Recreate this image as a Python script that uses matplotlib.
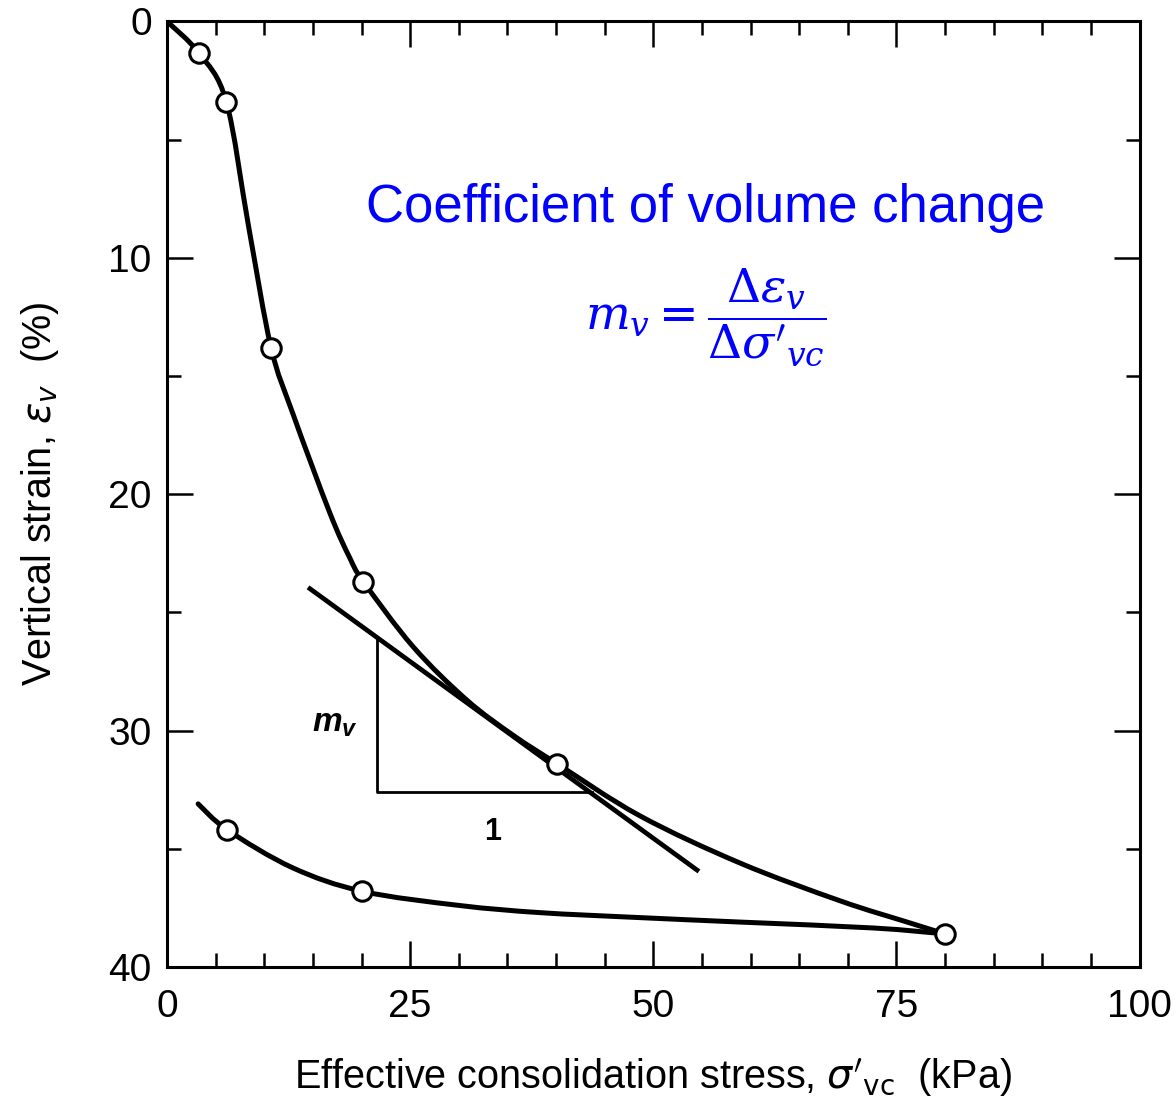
import matplotlib
matplotlib.use('Agg')
import matplotlib.pyplot as plt
from matplotlib.ticker import MultipleLocator
from matplotlib.path import Path
from matplotlib.patches import PathPatch

plt.rcParams['font.family'] = ['Liberation Sans', 'DejaVu Sans']
plt.rcParams['mathtext.it'] = 'Liberation Sans:italic:bold'
plt.rcParams['mathtext.rm'] = 'Liberation Sans:bold'

# loading curve (stress kPa, strain %)
load_x = [0, 3.3, 6.1, 8.4, 10.7, 12.95, 16.75, 18.8, 20.2, 25.3, 30.8, 35.6, 40.1, 48.6, 58.9, 69.2, 76.1, 80.0]
load_y = [0, 1.35, 3.4, 8.7, 13.8, 16.6, 20.8, 22.7, 23.7, 26.45, 28.7, 30.2, 31.4, 33.6, 35.6, 37.2, 38.1, 38.6]

# unloading curve
unload_x = [3.2, 6.2, 12.9, 20.1, 30.1, 38.3, 48.0, 58.9, 72.6, 80.0]
unload_y = [33.1, 34.2, 35.8, 36.8, 37.4, 37.7, 37.9, 38.1, 38.35, 38.6]

# measured points (circles)
pt_x = [3.3, 6.1, 10.7, 20.2, 40.1, 80.0, 6.2, 20.1]
pt_y = [1.35, 3.4, 13.8, 23.7, 31.4, 38.6, 34.2, 36.8]

# tangent line and slope triangle
tan_x = [14.7, 54.5]
tan_y = [24.0, 35.9]
tri_x = [21.6, 21.6, 43.7]
tri_y = [26.1, 32.6, 32.6]


def smooth_path(xs, ys):
    # bezier path through the traced points (catmull-rom style handles)
    pts = list(zip(xs, ys))
    n = len(pts)
    verts = [pts[0]]
    codes = [Path.MOVETO]
    for i in range(n - 1):
        p0 = pts[i - 1] if i > 0 else pts[i]
        p1 = pts[i]
        p2 = pts[i + 1]
        p3 = pts[i + 2] if i + 2 < n else pts[i + 1]
        c1 = (p1[0] + (p2[0] - p0[0]) / 6, p1[1] + (p2[1] - p0[1]) / 6)
        c2 = (p2[0] - (p3[0] - p1[0]) / 6, p2[1] - (p3[1] - p1[1]) / 6)
        verts += [c1, c2, p2]
        codes += [Path.CURVE4] * 3
    return Path(verts, codes)


fig = plt.figure(figsize=(11.76, 11.06), dpi=100)
ax = fig.add_axes([0.142, 0.1257, 0.827, 0.855])

for xs, ys in [(load_x, load_y), (unload_x, unload_y)]:
    ax.add_patch(PathPatch(smooth_path(xs, ys), fill=False, ec='black', lw=3.6,
                           capstyle='round', zorder=3))
ax.plot(tan_x, tan_y, color='black', lw=3.4, zorder=4)
ax.plot(tri_x, tri_y, color='black', lw=2.0, zorder=2)
ax.plot(pt_x, pt_y, 'o', ms=14, mfc='white', mec='black', mew=2.2, zorder=5)

ax.text(17.3, 29.7, r'$m_v$', fontsize=24, ha='center', va='center', math_fontfamily='custom')
ax.text(33.5, 34.3, '1', fontsize=22, fontweight='bold', ha='center', va='center')

ax.text(55.4, 8.5, 'Coefficient of volume change', color='#0000FF', fontsize=38,
        ha='center', va='baseline')
ax.text(55.4, 12.5, r"$m_v = \dfrac{\Delta\epsilon_v}{\Delta\sigma'_{vc}}$", color='#0000FF',
        fontsize=34, ha='center', va='center', math_fontfamily='dejavuserif')

ax.set_xlim(0, 100)
ax.set_ylim(40, 0)
ax.xaxis.set_major_locator(MultipleLocator(25))
ax.xaxis.set_minor_locator(MultipleLocator(5))
ax.yaxis.set_major_locator(MultipleLocator(10))
ax.yaxis.set_minor_locator(MultipleLocator(5))
ax.tick_params(which='both', direction='in', top=True, right=True, width=1.8)
ax.tick_params(which='major', length=19, labelsize=28)
ax.tick_params(which='minor', length=10)
ax.tick_params(axis='x', which='major', pad=16)
ax.tick_params(axis='y', which='major', pad=11)
for s in ax.spines.values():
    s.set_linewidth(2.2)

ax.set_xlabel(r"Effective consolidation stress, $\sigma'_{\rm vc}$  (kPa)", fontsize=28.5, labelpad=22)
ax.set_ylabel(r'Vertical strain, $\varepsilon_v$  (%)', fontsize=28.5, labelpad=34)

fig.savefig('out.png', dpi=100)
